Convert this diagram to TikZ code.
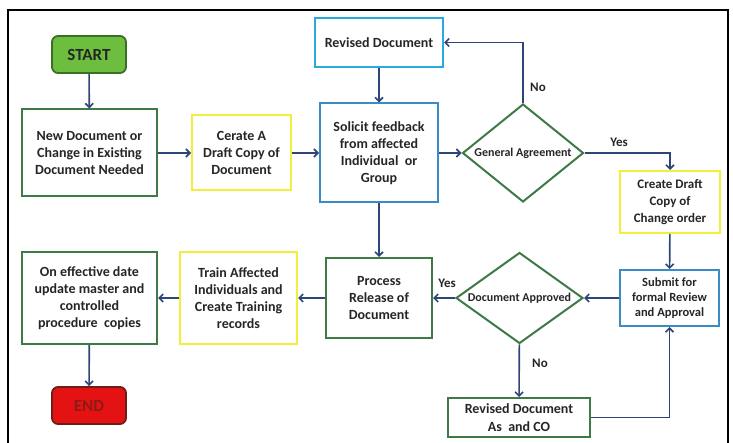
\documentclass[tikz,border=0pt]{standalone}
\usepackage{fontspec}
\setmainfont{Carlito}
\usetikzlibrary{shapes.geometric,arrows.meta}
\definecolor{flowc}{HTML}{2E4677}
\definecolor{greenc}{HTML}{3D7A45}
\definecolor{yellowc}{HTML}{F2EE3C}
\definecolor{bluec}{HTML}{3A8CC8}
\definecolor{lightbluec}{HTML}{2AA8E0}
\definecolor{textc}{HTML}{262626}
\definecolor{startfill}{HTML}{6DBE3E}
\definecolor{startdraw}{HTML}{3B6E27}
\definecolor{endfill}{HTML}{E41212}
\definecolor{enddraw}{HTML}{6E1E14}
\definecolor{endtext}{HTML}{8E1A14}
\tikzset{
  box/.style={draw, line width=2pt, fill=white, align=center, inner sep=1pt,
    text=textc, font=\bfseries\fontsize{14}{17}\selectfont},
  greenbox/.style={box, draw=greenc},
  yellowbox/.style={box, draw=yellowc},
  bluebox/.style={box, draw=bluec},
  % negative inner sep lets the given minimum size set the diamond outline
  decision/.style={draw=greenc, line width=2pt, fill=white, diamond,
    inner xsep=-30pt, inner ysep=-10pt,
    text=textc, font=\bfseries\fontsize{12}{14}\selectfont},
  terminal/.style={draw, line width=1.8pt, rounded corners=6pt, inner sep=0pt,
    minimum width=74pt, minimum height=37pt, font=\bfseries\fontsize{17}{20}\selectfont},
  flow/.style={draw=flowc, line width=1.6pt, -{Straight Barb[length=4pt,width=8pt,line width=1.6pt]}},
  branch/.style={text=textc, font=\bfseries\fontsize{13}{15}\selectfont}
}
\begin{document}
\begin{tikzpicture}[x=1pt,y=-1pt]
\useasboundingbox (0,0) rectangle (733,443);
% outer frame, open at the bottom
\draw[line width=1.8pt, black] (8,444) -- (8,10) -- (728,10) -- (728,444);

% process steps
\node[terminal, draw=startdraw, fill=startfill, text=textc] (start) at (89,54.5) {START};
\node[greenbox, minimum width=135pt, minimum height=87pt] (newdoc) at (89.5,153) {New Document or\\Change in Existing\\Document Needed};
\node[yellowbox, minimum width=99pt, minimum height=75pt] (cerate) at (241.5,153) {Cerate A\\Draft Copy of\\Document};
\node[bluebox, minimum width=118pt, minimum height=99pt] (solicit) at (379,153) {Solicit feedback\\from affected\\Individual~ or\\Group};
\node[box, draw=lightbluec, minimum width=128pt, minimum height=49pt] (revtop) at (379,42.5) {Revised Document};
\node[decision, minimum width=121pt, minimum height=98pt] (ga) at (523,153) {General Agreement};
\node[yellowbox, minimum width=100pt, minimum height=62pt, font=\bfseries\fontsize{13}{17}\selectfont] (draftco) at (670,202) {Create Draft\\Copy of\\Change order};
\node[bluebox, minimum width=99pt, minimum height=56pt, font=\bfseries\fontsize{12.5}{15}\selectfont] (submit) at (669.5,298) {Submit for\\formal Review\\and Approval};
\node[decision, minimum width=127pt, minimum height=91pt] (da) at (519.5,298) {Document Approved};
\node[greenbox, minimum width=106pt, minimum height=80pt] (process) at (379,298) {Process\\Release of\\Document};
\node[yellowbox, minimum width=117pt, minimum height=92pt] (train) at (238.5,298) {Train Affected\\Individuals and\\Create Training\\records};
\node[greenbox, minimum width=135pt, minimum height=92pt] (oneff) at (89.5,298) {On effective date\\update master and\\controlled\\procedure~ copies};
\node[terminal, draw=enddraw, fill=endfill, text=endtext] (endn) at (89,405.5) {END};
\node[greenbox, minimum width=142pt, minimum height=39pt, font=\bfseries\fontsize{14}{18}\selectfont] (revco) at (519,417.5) {Revised Document\\As~ and CO};

% connectors
\draw[flow] (start) -- (newdoc);
\draw[flow] (newdoc) -- (cerate);
\draw[flow] (cerate) -- (solicit);
\draw[flow] (revtop) -- (solicit);
\draw[flow] (solicit) -- (ga);
\draw[flow] (ga.north) |- (revtop.east);
\draw[flow] (ga.east) -| (draftco.north);
\draw[flow] (draftco) -- (submit);
\draw[flow] (submit) -- (da);
\draw[flow] (da) -- (process);
\draw[flow] (solicit) -- (process);
\draw[flow] (process) -- (train);
\draw[flow] (train) -- (oneff);
\draw[flow] (oneff) -- (endn);
\draw[flow] (da) -- (revco);
\draw[flow] (revco.east) -| (submit.south);

% branch labels
\node[branch] (noga) at (538,87) {No};
\node[branch] (yesga) at (619,142) {Yes};
\node[branch] (yesda) at (447,283) {Yes};
\node[branch] (noda) at (540,363) {No};
\end{tikzpicture}
\end{document}
